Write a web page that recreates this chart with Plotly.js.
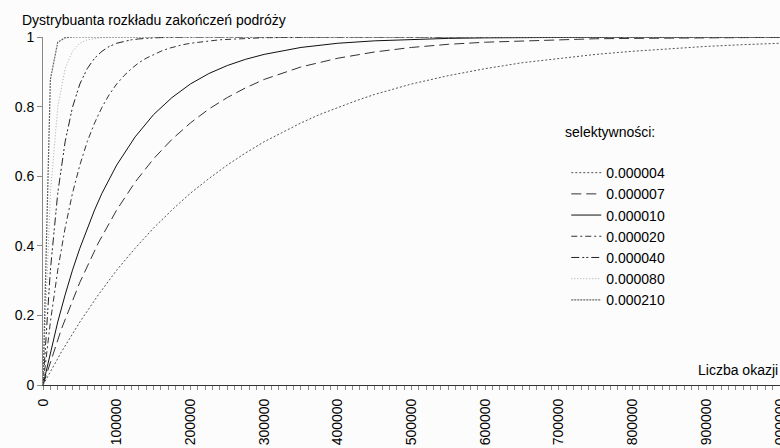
<!DOCTYPE html>
<html>
<head>
<meta charset="utf-8">
<script src="https://cdn.plot.ly/plotly-3.0.1.min.js"></script>
<style>
html,body{margin:0;padding:0;overflow:hidden;background:#fcfcfc;width:780px;height:448px;}
#chart{width:790px;height:448px;}
</style>
</head>
<body>
<div id="chart"></div>
<script>
// Data
const seriesNames = ['0.000004', '0.000007', '0.000010', '0.000020', '0.000040', '0.000080', '0.000210'];

const x_000004 = [0,25000,50000,75000,100000,125000,150000,175000,200000,225000,250000,275000,300000,325000,350000,375000,400000,425000,450000,475000,500000,550000,600000,650000,700000,750000,800000,850000,900000,950000,1000000];
const y_000004 = [0,0.095,0.181,0.259,0.330,0.393,0.451,0.503,0.551,0.593,0.632,0.667,0.699,0.727,0.753,0.777,0.798,0.817,0.835,0.850,0.865,0.889,0.909,0.926,0.939,0.950,0.959,0.967,0.973,0.978,0.982];

const x_000007 = [0,25000,50000,75000,100000,125000,150000,175000,200000,225000,250000,275000,300000,325000,350000,400000,450000,500000,550000,600000,650000,700000,750000,800000,850000,900000,950000,1000000];
const y_000007 = [0,0.161,0.295,0.408,0.503,0.583,0.650,0.706,0.753,0.793,0.826,0.854,0.878,0.897,0.914,0.939,0.957,0.970,0.979,0.985,0.989,0.993,0.995,0.996,0.997,0.998,0.999,0.999];

const x_000010 = [0,10000,20000,30000,40000,50000,60000,70000,80000,90000,100000,125000,150000,175000,200000,225000,250000,275000,300000,350000,400000,450000,500000,550000,600000,700000,800000,1000000];
const y_000010 = [0,0.095,0.181,0.259,0.330,0.393,0.451,0.503,0.551,0.593,0.632,0.713,0.777,0.826,0.865,0.895,0.918,0.936,0.950,0.970,0.982,0.989,0.993,0.996,0.9975,0.999,1,1];

const x_000020 = [0,10000,20000,30000,40000,50000,60000,70000,80000,90000,100000,110000,120000,130000,140000,150000,160000,170000,180000,190000,200000,220000,240000,260000,280000,300000,350000,400000,1000000];
const y_000020 = [0,0.181,0.330,0.451,0.551,0.632,0.699,0.753,0.798,0.835,0.865,0.889,0.909,0.926,0.939,0.950,0.959,0.967,0.973,0.978,0.982,0.988,0.992,0.994,0.996,0.998,0.999,1,1];

const x_000040 = [0,10000,20000,30000,40000,50000,60000,70000,80000,90000,100000,110000,120000,130000,140000,150000,170000,200000,1000000];
const y_000040 = [0,0.330,0.551,0.699,0.798,0.865,0.909,0.939,0.959,0.973,0.982,0.988,0.992,0.9945,0.9963,0.9975,0.9989,0.9997,1];

const x_000080 = [0,10000,20000,30000,40000,50000,60000,70000,80000,90000,100000,1000000];
const y_000080 = [0,0.551,0.798,0.909,0.959,0.982,0.992,0.996,0.998,0.999,1,1];

const x_000210 = [0,10000,20000,30000,40000,1000000];
const y_000210 = [0,0.878,0.985,0.998,1,1];

const xTickStep = 100000;
const xMinorStep = 10000;

const xs = [x_000004, x_000007, x_000010, x_000020, x_000040, x_000080, x_000210];
const ys = [y_000004, y_000007, y_000010, y_000020, y_000040, y_000080, y_000210];
const styles = [
  {color:'#555', dash:'2px,2px', width:1},
  {color:'#333', dash:'10px,5px', width:1},
  {color:'#111', dash:'solid', width:1},
  {color:'#333', dash:'6px,3px,2px,3px', width:1},
  {color:'#222', dash:'8px,3px,2px,2px,2px,3px', width:1},
  {color:'#aaa', dash:'1px,2px', width:1},
  {color:'#666', dash:'2px,1px', width:1.2}
];

const traces = seriesNames.map((n, i) => ({
  type:'scatter', mode:'lines', name:n, x:xs[i], y:ys[i],
  line:styles[i], hoverinfo:'skip'
}));

const FONT = 'Liberation Sans, Arial, sans-serif';

const layout = {
  width:790, height:448,
  margin:{l:43, r:10, t:37, b:63},
  paper_bgcolor:'#fcfcfc', plot_bgcolor:'#fcfcfc',
  font:{family:FONT, size:14, color:'#000'},
  showlegend:true,
  legend:{x:0.71, y:0.655, xanchor:'left', yanchor:'top', bgcolor:'rgba(0,0,0,0)',
          font:{family:FONT, size:14, color:'#000'}, tracegroupgap:0},
  xaxis:{range:[0,1000000], tick0:0, dtick:xTickStep, tickformat:'d',
         ticks:'outside', ticklen:4, tickcolor:'#888', tickangle:-90, ticklabelstandoff:3,
         tickfont:{family:FONT, size:14, color:'#000'},
         showline:true, linecolor:'#333', linewidth:1, showgrid:false, zeroline:false,
         minor:{dtick:xMinorStep, ticks:'outside', ticklen:4, tickcolor:'#888', showgrid:false}},
  yaxis:{range:[0,1], tick0:0, dtick:0.2,
         ticks:'outside', ticklen:5, tickcolor:'#888',
         tickfont:{family:FONT, size:14, color:'#000'},
         showline:true, linecolor:'#888', linewidth:1, showgrid:false, zeroline:false},
  annotations:[
    {text:'Dystrybuanta rozkładu zakończeń podróży', xref:'paper', yref:'paper',
     x:-23/737, y:1+ (37-20)/348, xanchor:'left', yanchor:'middle', showarrow:false,
     font:{family:FONT, size:14, color:'#000'}},
    {text:'Liczba okazji', xref:'paper', yref:'paper',
     x:1, y:(385-370)/348, xanchor:'right', yanchor:'middle', showarrow:false,
     font:{family:FONT, size:14, color:'#000'}},
    {text:'selektywności:', xref:'paper', yref:'paper',
     x:(563-43)/737, y:(385-132)/348, xanchor:'left', yanchor:'middle', showarrow:false,
     font:{family:FONT, size:14, color:'#000'}}
  ]
};

Plotly.newPlot('chart', traces, layout, {displayModeBar:false, staticPlot:true});
</script>
</body>
</html>
